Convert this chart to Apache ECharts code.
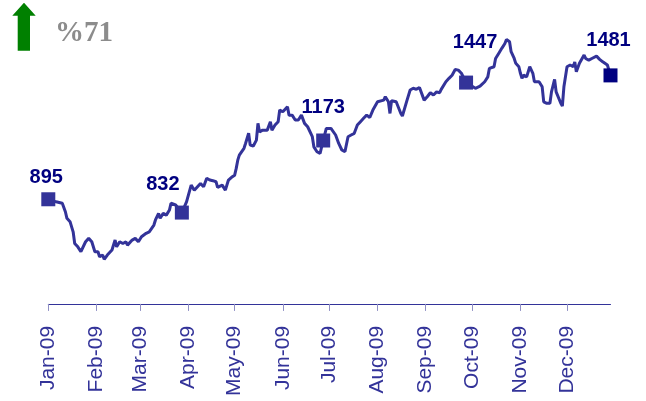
<!DOCTYPE html>
<html lang="en">
<head>
    <meta charset="utf-8">
    <title>Index 2009</title>
    <style>
        html, body { margin: 0; padding: 0; background: #ffffff; }
        #main { width: 646px; height: 401px; }
    </style>
</head>
<body>
<div id="main"></div>
<script src="https://cdn.jsdelivr.net/npm/echarts@6/dist/echarts.min.js"></script>
<script type="text/javascript">

    // x axis labels, one per month
    var monthLabels = ['Jan-09', 'Feb-09', 'Mar-09', 'Apr-09', 'May-09', 'Jun-09',
        'Jul-09', 'Aug-09', 'Sep-09', 'Oct-09', 'Nov-09', 'Dec-09'];

    // index line
    var dates = [
        '2009-01-01', '2009-01-06', '2009-01-10', '2009-01-12', '2009-01-13', '2009-01-15', '2009-01-17', '2009-01-18',
        '2009-01-20', '2009-01-22', '2009-01-25', '2009-01-27', '2009-01-29', '2009-01-31',
        '2009-02-02', '2009-02-03', '2009-02-05', '2009-02-06', '2009-02-08', '2009-02-11', '2009-02-13', '2009-02-14',
        '2009-02-16', '2009-02-18', '2009-02-20', '2009-02-21', '2009-02-24', '2009-02-26', '2009-02-28',
        '2009-03-02', '2009-03-05', '2009-03-07', '2009-03-10', '2009-03-11', '2009-03-13', '2009-03-14', '2009-03-16',
        '2009-03-18', '2009-03-20', '2009-03-21', '2009-03-24', '2009-03-28', '2009-03-31',
        '2009-04-03', '2009-04-05', '2009-04-09', '2009-04-11', '2009-04-13', '2009-04-15', '2009-04-17', '2009-04-19',
        '2009-04-20', '2009-04-23', '2009-04-25', '2009-04-27', '2009-04-29',
        '2009-05-01', '2009-05-02', '2009-05-03', '2009-05-04', '2009-05-07', '2009-05-08', '2009-05-10', '2009-05-11',
        '2009-05-13', '2009-05-15', '2009-05-16', '2009-05-17', '2009-05-19', '2009-05-22', '2009-05-24', '2009-05-25',
        '2009-05-27', '2009-05-29', '2009-05-30',
        '2009-06-01', '2009-06-04', '2009-06-05', '2009-06-07', '2009-06-09', '2009-06-11', '2009-06-13', '2009-06-15',
        '2009-06-17', '2009-06-20', '2009-06-21', '2009-06-23', '2009-06-25', '2009-06-27', '2009-06-29',
        '2009-07-02', '2009-07-05', '2009-07-07', '2009-07-09', '2009-07-11', '2009-07-13', '2009-07-15', '2009-07-17',
        '2009-07-19', '2009-07-21', '2009-07-23', '2009-07-25', '2009-07-27', '2009-07-29',
        '2009-08-01', '2009-08-05', '2009-08-06', '2009-08-08', '2009-08-09', '2009-08-10', '2009-08-13', '2009-08-16',
        '2009-08-17', '2009-08-20', '2009-08-22', '2009-08-24', '2009-08-26', '2009-08-28', '2009-08-31',
        '2009-09-02', '2009-09-04', '2009-09-06', '2009-09-08', '2009-09-10', '2009-09-11', '2009-09-14', '2009-09-16',
        '2009-09-18', '2009-09-20', '2009-09-22', '2009-09-24', '2009-09-27',
        '2009-10-03', '2009-10-06', '2009-10-09', '2009-10-11', '2009-10-12', '2009-10-15', '2009-10-16', '2009-10-17',
        '2009-10-18', '2009-10-20', '2009-10-22', '2009-10-23', '2009-10-25', '2009-10-26', '2009-10-28', '2009-10-29',
        '2009-10-31',
        '2009-11-01', '2009-11-02', '2009-11-03', '2009-11-05', '2009-11-07', '2009-11-09', '2009-11-10', '2009-11-13',
        '2009-11-15', '2009-11-16', '2009-11-18', '2009-11-20', '2009-11-21', '2009-11-23', '2009-11-24', '2009-11-27',
        '2009-11-28', '2009-11-29',
        '2009-12-01', '2009-12-03', '2009-12-05', '2009-12-06', '2009-12-07', '2009-12-09', '2009-12-12', '2009-12-13',
        '2009-12-15', '2009-12-17', '2009-12-20', '2009-12-22', '2009-12-24', '2009-12-27', '2009-12-29'
    ];
    var values = [
        895, 883, 876, 836, 805, 789, 741, 686,
        670, 647, 694, 710, 694, 647,
        647, 623, 631, 611, 631, 655, 702, 670,
        694, 686, 694, 678, 702, 710, 694,
        718, 734, 741, 773, 797, 828, 805, 828,
        820, 844, 876, 868, 832, 883,
        962, 938, 970, 954, 994, 986, 983, 978,
        951, 962, 938, 986, 999,
        1009, 1041, 1080, 1104, 1136, 1159, 1207, 1151,
        1147, 1175, 1254, 1214, 1222, 1222, 1262, 1222,
        1246, 1262, 1317,
        1309, 1333, 1293, 1293, 1270, 1270, 1293, 1254,
        1238, 1191, 1143, 1120, 1112, 1173, 1230,
        1230, 1199, 1159, 1128, 1120, 1191, 1199, 1207,
        1246, 1262, 1278, 1293, 1282, 1317,
        1356, 1364, 1380, 1356, 1301, 1361, 1356, 1301,
        1289, 1364, 1412, 1420, 1415, 1424, 1364,
        1380, 1399, 1388, 1403, 1399, 1415, 1451, 1467,
        1482, 1509, 1506, 1491, 1447,
        1420, 1430, 1451, 1474, 1514, 1522, 1561, 1569,
        1585, 1609, 1632, 1651, 1640, 1593, 1561, 1538,
        1522,
        1491, 1467, 1482, 1474, 1522, 1491, 1451, 1451,
        1427, 1356, 1349, 1349, 1403, 1462, 1403, 1349,
        1336, 1427,
        1522, 1530, 1522, 1545, 1498, 1538, 1577, 1561,
        1553, 1561, 1572, 1557, 1545, 1530, 1481
    ];

    // marked quarter points
    var keyDates = ['2009-01-01', '2009-03-28', '2009-06-27', '2009-09-27', '2009-12-29'];
    var keyValues = [895, 832, 1173, 1447, 1481];

    var lineColor = '#333399';
    // label offsets and colours for the marked points
    var keyLabelOffset = [[-2, -22], [-19, -28], [0, -33], [9, -40], [-2, -35]];
    var keyColor = ['#333399', '#333399', '#333399', '#333399', '#000080'];

    // date string -> timestamp (local time)
    function toTime(s) {
        var p = s.split('-');
        return new Date(+p[0], +p[1] - 1, +p[2]).getTime();
    }

    var monthStarts = [];
    for (var m = 0; m < 12; m++) {
        monthStarts.push(new Date(2009, m, 1).getTime());
    }

    var lineData = dates.map(function (d, i) { return [toTime(d), values[i]]; });
    var keyData = keyDates.map(function (d, i) {
        return {
            value: [toTime(d), keyValues[i]],
            itemStyle: { color: keyColor[i], opacity: 1 },
            label: { offset: keyLabelOffset[i] }
        };
    });

    var myChart = echarts.init(document.getElementById('main'), null, { renderer: 'canvas' });
    var option = {
        animation: false,
        backgroundColor: '#ffffff',
        grid: {
            left: 48.3,
            right: 35.5,
            top: 29.1,
            bottom: 97.1,
            outerBoundsMode: 'none'
        },
        xAxis: {
            type: 'value',
            min: toTime('2009-01-01'),
            max: toTime('2009-12-29'),
            axisLine: { show: true, onZero: false, lineStyle: { color: lineColor, width: 1 } },
            axisTick: { show: true, length: 7, customValues: monthStarts, lineStyle: { color: '#8f8fc4', width: 1 } },
            splitLine: { show: false },
            axisLabel: {
                customValues: monthStarts,
                rotate: 90,
                margin: 22,
                color: lineColor,
                fontFamily: 'Liberation Sans, Arial, sans-serif',
                fontSize: 21,
                formatter: function (v) {
                    return monthLabels[new Date(v).getMonth()];
                }
            }
        },
        yAxis: {
            type: 'value',
            min: 400,
            max: 1700,
            show: false,
            splitLine: { show: false }
        },
        graphic: [
            {
                type: 'polygon',
                shape: {
                    points: [[24, 2.7], [35.7, 15.7], [30, 15.7], [30, 50.7], [17.7, 50.7], [17.7, 15.7], [12.3, 15.7]]
                },
                style: { fill: '#008000' }
            },
            {
                type: 'text',
                left: 55,
                top: 19,
                style: {
                    text: '%71',
                    fill: '#8c8c8c',
                    font: 'bold 29px "Liberation Serif", "Times New Roman", serif'
                }
            }
        ],
        series: [
            {
                name: 'index',
                type: 'line',
                data: lineData,
                showSymbol: false,
                symbol: 'none',
                lineStyle: { color: lineColor, width: 3 },
                z: 2
            },
            {
                name: 'points',
                type: 'scatter',
                data: keyData,
                symbol: 'rect',
                symbolSize: 14,
                itemStyle: { opacity: 1 },
                z: 3,
                label: {
                    show: true,
                    position: 'inside',
                    align: 'center',
                    verticalAlign: 'middle',
                    color: '#000080',
                    fontFamily: 'Liberation Sans, Arial, sans-serif',
                    fontWeight: 'bold',
                    fontSize: 20,
                    formatter: function (p) { return p.value[1]; }
                }
            }
        ]
    };
    myChart.setOption(option);
</script>
</body>
</html>
